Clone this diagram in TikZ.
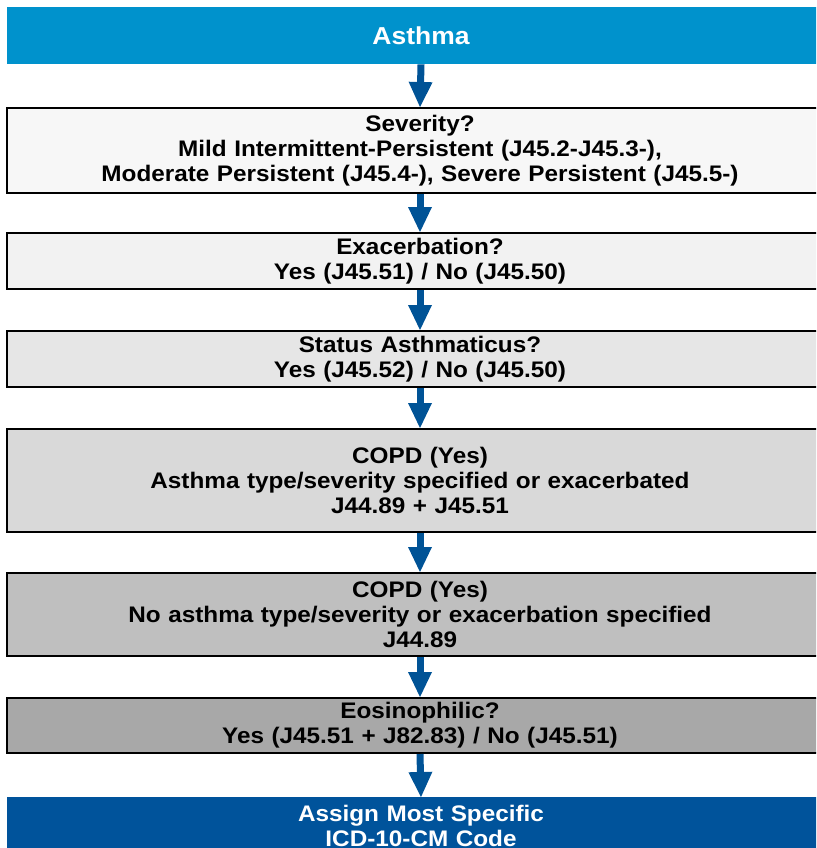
\documentclass[tikz,border=0pt]{standalone}
\usepackage{fontspec}
\setmainfont{Liberation Sans}[FakeStretch=1.08]
\usetikzlibrary{arrows.meta}
\definecolor{lightblue}{RGB}{0,146,204}
\definecolor{darkblue}{RGB}{0,83,155}
\definecolor{arrowblue}{RGB}{0,83,150}
\definecolor{g1}{RGB}{247,247,247}
\definecolor{g2}{RGB}{242,242,242}
\definecolor{g3}{RGB}{230,230,230}
\definecolor{g4}{RGB}{217,217,217}
\definecolor{g5}{RGB}{191,191,191}
\definecolor{g6}{RGB}{168,168,168}
\begin{document}
\begin{tikzpicture}[x=1pt,y=-1pt,
  box/.style={rectangle, draw=black, line width=2pt, anchor=north,
    minimum width=826pt, text width=800pt, align=center, inner sep=0pt,
    font=\bfseries\fontsize{22.5pt}{25pt}\selectfont},
  bluebox/.style={rectangle, anchor=north, minimum width=828pt,
    text width=800pt, align=center, inner sep=0pt, text=white,
    font=\bfseries\fontsize{22.5pt}{25pt}\selectfont},
  flowarrow/.style={draw=arrowblue, line width=7pt,
    -{Triangle[length=25pt,width=24pt,line width=0pt]}}]
\useasboundingbox (0,0) rectangle (816,848);
\clip (0,0) rectangle (816,848);
\node[bluebox, fill=lightblue, minimum height=57pt,
  font=\bfseries\fontsize{24.5pt}{28pt}\selectfont] (asthma) at (421,7) {Asthma};
\node[box, fill=g1, minimum height=85pt] (sev) at (420,107)
  {Severity?\\Mild Intermittent-Persistent (J45.2-J45.3-),\\Moderate Persistent (J45.4-), Severe Persistent (J45.5-)};
\node[box, fill=g2, minimum height=56pt] (exa) at (420,232)
  {Exacerbation?\\Yes (J45.51) / No (J45.50)};
\node[box, fill=g3, minimum height=56pt] (stat) at (420,330)
  {Status Asthmaticus?\\Yes (J45.52) / No (J45.50)};
\node[box, fill=g4, minimum height=103pt] (copdA) at (420,428)
  {COPD (Yes)\\Asthma type/severity specified or exacerbated\\J44.89 + J45.51};
\node[box, fill=g5, minimum height=83pt] (copdB) at (420,572)
  {COPD (Yes)\\No asthma type/severity or exacerbation specified\\J44.89};
\node[box, fill=g6, minimum height=55pt] (eos) at (420,697)
  {Eosinophilic?\\Yes (J45.51 + J82.83) / No (J45.51)};
\node[bluebox, fill=darkblue, minimum height=58pt] (assign) at (421,797)
  {Assign Most Specific\\ICD-10-CM Code};
\draw[flowarrow] (asthma.south) -- (sev.north);
\draw[flowarrow] (sev.south) -- (exa.north);
\draw[flowarrow] (exa.south) -- (stat.north);
\draw[flowarrow] (stat.south) -- (copdA.north);
\draw[flowarrow] (copdA.south) -- (copdB.north);
\draw[flowarrow] (copdB.south) -- (eos.north);
\draw[flowarrow] (eos.south) -- (assign.north);
\end{tikzpicture}
\end{document}
